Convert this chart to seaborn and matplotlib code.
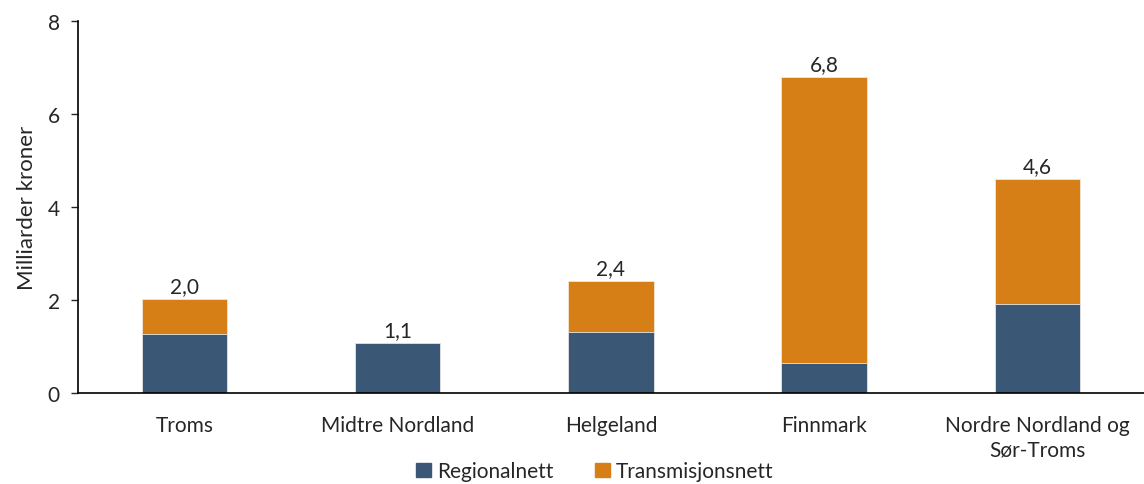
import numpy as np
import pandas as pd
import matplotlib.pyplot as plt
import seaborn as sns
from matplotlib.patches import Patch

sns.set_theme(style="white")
plt.rcParams['font.family'] = ['Lato', 'DejaVu Sans']

# Data (milliarder kroner)
regions = ["Troms", "Midtre Nordland", "Helgeland", "Finnmark",
           "Nordre Nordland og\nSør-Troms"]
regionalnett = [1.27, 1.07, 1.31, 0.65, 1.91]
transmisjonsnett = [0.75, 0.0, 1.10, 6.15, 2.69]

BLUE = "#3A5775"
ORANGE = "#D77F17"

df = pd.DataFrame({"region": regions,
                   "regional": regionalnett,
                   "trans": transmisjonsnett})
df["total"] = df["regional"] + df["trans"]

fig = plt.figure(figsize=(11.44, 4.85), dpi=100)
ax = fig.add_axes([0.068, 0.188, 0.932, 0.767])

# stacked: total in orange, regional drawn on top in blue
sns.barplot(data=df, x="region", y="total", color=ORANGE, width=0.4,
            saturation=1, ax=ax, edgecolor="#F3E6D6", linewidth=0.6)
sns.barplot(data=df, x="region", y="regional", color=BLUE, width=0.4,
            saturation=1, ax=ax, edgecolor="#E6E6E6", linewidth=0.6)

for i, tot in enumerate(df["total"]):
    ax.annotate(f"{tot:.1f}".replace(".", ","), (i, tot), xytext=(0, 2),
                textcoords="offset points", ha="center", va="bottom",
                fontsize=15)

ax.set_xlim(-0.5, 4.5)
ax.set_ylim(0, 8)
ax.set_yticks([0, 2, 4, 6, 8])
ax.set_xlabel("")
ax.set_ylabel("Milliarder kroner", fontsize=16, labelpad=8)
ax.tick_params(axis="y", left=True, length=5, width=1, labelsize=15,
               direction="out", pad=8)
ax.tick_params(axis="x", bottom=False, labelsize=15, pad=10)
for lbl in ax.get_xticklabels():
    lbl.set_linespacing(1.3)
for s in ["top", "right"]:
    ax.spines[s].set_visible(False)
for s in ["left", "bottom"]:
    ax.spines[s].set_color("black")
    ax.spines[s].set_linewidth(1.2)

handles = [Patch(color=BLUE, label="Regionalnett"),
           Patch(color=ORANGE, label="Transmisjonsnett")]
fig.legend(handles=handles, loc="lower center", bbox_to_anchor=(0.52, -0.033),
           ncol=2, frameon=False, fontsize=15, handlelength=0.7,
           handleheight=0.7, handletextpad=0.3, columnspacing=2.0)

fig.savefig("out.png", dpi=100)
